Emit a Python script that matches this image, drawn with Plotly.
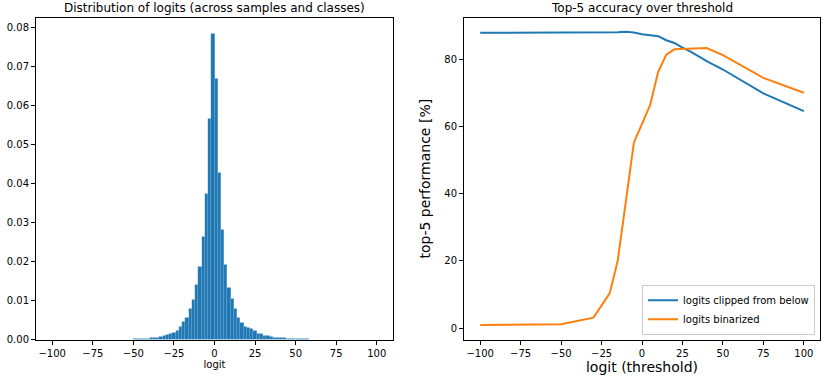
import plotly.graph_objects as go

# histogram of logits: bins of width 2 from -100 to 100 (density)
bin_centers = list(range(-99, 100, 2))
density_left = [0] * 18 + [
    0.00002, 0.00003,
    0.00004, 0.00005, 0.00006, 0.00008, 0.0001,
    0.00013, 0.00016, 0.0002, 0.00025, 0.0003, 0.0004, 0.0005, 0.0006,
    0.0008, 0.0009, 0.0012, 0.0015, 0.0019, 0.0024, 0.0033, 0.0045,
    0.0057, 0.0079, 0.0103, 0.0140, 0.0188, 0.0263, 0.0375, 0.0566, 0.0785,
]
density_right = [
    0.0669, 0.0428, 0.0283, 0.0191, 0.0133, 0.0104, 0.0079, 0.0057, 0.0043, 0.0034,
    0.0030, 0.0027, 0.0023, 0.0015, 0.0014, 0.0011, 0.0009, 0.0007, 0.0006, 0.0005,
    0.00045, 0.0004, 0.00035, 0.0003, 0.00026, 0.00022, 0.00019, 0.00016, 0.00013, 0.00011,
    0.00009, 0.00007, 0.00005, 0.00004, 0.00003, 0.00002, 0.00001, 0, 0, 0,
] + [0] * 10
density = density_left + density_right

# top-5 accuracy over threshold
thresholds = [-100, -75, -50, -30, -20, -15, -10, -5, 0, 5, 10, 15, 20, 25, 30, 40, 50, 75, 100]
clipped = [87.8, 87.8, 87.8, 87.8, 87.9, 88.0, 88.1, 87.9, 87.4, 87.1, 86.8, 85.6,
           84.8, 83.4, 82.2, 79.4, 76.9, 69.8, 64.5]
binarized = [0.9, 1.0, 1.1, 3.1, 10.3, 20.0, 37.6, 55.2, 60.7, 66.3, 76.2, 81.3,
             82.9, 83.0, 83.2, 83.3, 81.2, 74.4, 70.0]

x_ticks = [-100, -75, -50, -25, 0, 25, 50, 75, 100]
x_labels = ["\u2212100", "\u221275", "\u221250", "\u221225", "0", "25", "50", "75", "100"]
hist_yticks = [0.0, 0.01, 0.02, 0.03, 0.04, 0.05, 0.06, 0.07, 0.08]
acc_yticks = [0, 20, 40, 60, 80]

FONT = "DejaVu Sans, sans-serif"
W, H = 831, 387

fig = go.Figure()

fig.add_trace(go.Bar(
    x=bin_centers, y=density, width=2,
    marker=dict(color="#1f77b4", line=dict(color="rgba(255,255,255,0.2)", width=0.4)),
    showlegend=False, xaxis="x", yaxis="y",
))
fig.add_trace(go.Scatter(
    x=thresholds, y=clipped, mode="lines", name="logits clipped from below",
    line=dict(color="#1f77b4", width=2), xaxis="x2", yaxis="y2",
))
fig.add_trace(go.Scatter(
    x=thresholds, y=binarized, mode="lines", name="logits binarized",
    line=dict(color="#ff7f0e", width=2), xaxis="x2", yaxis="y2",
))

y_dom = [(H - 345) / H, (H - 18) / H]
common = dict(showline=True, linecolor="black", linewidth=1, mirror=True,
              ticks="outside", ticklen=4, tickcolor="black", showgrid=False,
              zeroline=False, tickfont=dict(size=10, color="black"))

fig.update_layout(
    width=W, height=H,
    margin=dict(l=0, r=0, t=0, b=0),
    paper_bgcolor="white", plot_bgcolor="white",
    font=dict(family=FONT, color="black"),
    bargap=0,
    xaxis=dict(domain=[36 / W, 393 / W], range=[-110, 110], anchor="y",
               tickvals=x_ticks, ticktext=x_labels,
               title=dict(text="logit", font=dict(size=10), standoff=3), **common),
    yaxis=dict(domain=y_dom, range=[0, 0.0825], anchor="x",
               tickvals=hist_yticks, tickformat=".2f", **common),
    xaxis2=dict(domain=[464 / W, 820 / W], range=[-110, 110], anchor="y2",
                tickvals=x_ticks, ticktext=x_labels,
                title=dict(text="logit (threshold)", font=dict(size=14), standoff=0), **common),
    yaxis2=dict(domain=y_dom, range=[-3.45, 92.3], anchor="x2",
                tickvals=acc_yticks,
                title=dict(text="top-5 performance [%]", font=dict(size=14), standoff=10), **common),
    legend=dict(x=815 / W, y=(H - 340) / H, xanchor="right", yanchor="bottom",
                bgcolor="rgba(255,255,255,0.8)", bordercolor="#cccccc", borderwidth=1,
                font=dict(size=10), tracegroupgap=0),
    annotations=[
        dict(text="Distribution of logits (across samples and classes)",
             x=(36 + 393) / 2 / W, y=y_dom[1], xref="paper", yref="paper",
             xanchor="center", yanchor="bottom", yshift=1, showarrow=False,
             font=dict(size=12)),
        dict(text="Top-5 accuracy over threshold",
             x=(464 + 820) / 2 / W, y=y_dom[1], xref="paper", yref="paper",
             xanchor="center", yanchor="bottom", yshift=1, showarrow=False,
             font=dict(size=12)),
    ],
)

# drop the browser's default body margin so the figure sits at the window origin
fig.write_html("out.html", config={"displayModeBar": False},
               post_script="document.body.style.margin = '0';")
